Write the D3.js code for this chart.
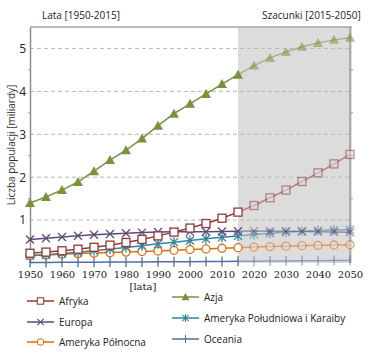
<!DOCTYPE html>
<html>
<head>
<meta charset="utf-8">
<script src="https://cdn.jsdelivr.net/npm/d3@7"></script>
<style>
body { margin: 0; background: #fff; }
text { font-family: "Open Sans", "DejaVu Sans", sans-serif; }
</style>
</head>
<body>
<svg id="chart"></svg>
<script>
// data (miliardy)
var years = [1950,1955,1960,1965,1970,1975,1980,1985,1990,1995,2000,2005,2010,2015,2020,2025,2030,2035,2040,2045,2050];
var afryka = [0.228,0.254,0.285,0.322,0.366,0.416,0.478,0.550,0.632,0.720,0.814,0.920,1.044,1.186,1.34,1.52,1.70,1.90,2.10,2.31,2.53];
var azja = [1.40,1.54,1.70,1.89,2.14,2.40,2.63,2.90,3.20,3.48,3.71,3.94,4.17,4.39,4.60,4.78,4.92,5.04,5.13,5.20,5.25];
var europa = [0.549,0.577,0.606,0.635,0.657,0.677,0.694,0.708,0.721,0.727,0.726,0.729,0.736,0.741,0.743,0.741,0.738,0.734,0.728,0.721,0.716];
var amerykaPld = [0.169,0.193,0.220,0.252,0.288,0.326,0.364,0.404,0.446,0.486,0.526,0.563,0.598,0.632,0.667,0.695,0.719,0.739,0.755,0.767,0.776];
var amerykaPln = [0.173,0.187,0.204,0.219,0.231,0.242,0.254,0.267,0.280,0.296,0.313,0.328,0.344,0.357,0.370,0.382,0.393,0.403,0.411,0.419,0.426];
var oceania = [0.013,0.014,0.016,0.018,0.020,0.022,0.023,0.025,0.027,0.029,0.031,0.034,0.037,0.040,0.043,0.046,0.049,0.051,0.054,0.056,0.057];
var xTicks = [1950,1960,1970,1980,1990,2000,2010,2020,2030,2040,2050];
var yTicks = [1,2,3,4,5];
var splitYear = 2015;

var series = [
  {name: "Afryka", values: afryka, color: "#953735", marker: "square", col: 0, row: 0},
  {name: "Europa", values: europa, color: "#604a7b", marker: "x", col: 0, row: 1},
  {name: "Ameryka Północna", values: amerykaPln, color: "#e46c0a", marker: "circle", col: 0, row: 2},
  {name: "Azja", values: azja, color: "#77933c", marker: "triangle", col: 1, row: 0},
  {name: "Ameryka Południowa i Karaiby", values: amerykaPld, color: "#31859c", marker: "star", col: 1, row: 1},
  {name: "Oceania", values: oceania, color: "#4f6fa0", marker: "plus", col: 1, row: 2}
];

var W = 371, H = 362;
var plotL = 30, plotR = 350, plotT = 27, plotB = 263;

var svg = d3.select("#chart").attr("width", W).attr("height", H);

var x = d3.scaleLinear().domain([1950, 2050]).range([plotL, plotR]);
var y = d3.scaleLinear().domain([0, 5.5]).range([plotB, plotT]);

//projection background
svg.append("rect")
  .attr("x", x(splitYear)).attr("y", plotT)
  .attr("width", x(2050) - x(splitYear) + 2).attr("height", plotB - plotT)
  .attr("fill", "#dcdcdc");

//grid
svg.append("g").selectAll("line").data(yTicks).enter().append("line")
  .attr("x1", plotL).attr("x2", plotR)
  .attr("y1", function(d) { return y(d); }).attr("y2", function(d) { return y(d); })
  .attr("stroke", "#b8b8b8").attr("stroke-dasharray", "4,3");

//frame
svg.append("line").attr("x1", plotL).attr("x2", plotR + 2).attr("y1", plotT).attr("y2", plotT)
  .attr("stroke", "#a6a6a6").attr("stroke-width", 1.5);
svg.append("line").attr("x1", plotR).attr("x2", plotR).attr("y1", plotT).attr("y2", plotB)
  .attr("stroke", "#8c8c8c").attr("stroke-width", 1.2);

//y axis
var yAxis = svg.append("g")
  .attr("transform", "translate(" + plotL + ",0)")
  .call(d3.axisLeft(y).tickValues(yTicks).tickSize(0).tickPadding(4).tickFormat(d3.format("d")));
yAxis.select(".domain").attr("stroke", "#8c8c8c").attr("stroke-width", 1.5);
yAxis.selectAll("text").style("font-size", "12px").attr("fill", "#222");

//minor ticks on both sides
var minor = d3.range(0.5, 5.5, 1);
svg.append("g").selectAll("line").data(minor).enter().append("line")
  .attr("x1", plotL - 2).attr("x2", plotL)
  .attr("y1", function(d) { return y(d); }).attr("y2", function(d) { return y(d); })
  .attr("stroke", "#999");
svg.append("g").selectAll("line").data(minor).enter().append("line")
  .attr("x1", plotR).attr("x2", plotR + 3)
  .attr("y1", function(d) { return y(d); }).attr("y2", function(d) { return y(d); })
  .attr("stroke", "#999");

//x axis
var xAxis = svg.append("g")
  .attr("transform", "translate(0," + plotB + ")")
  .call(d3.axisBottom(x).tickValues(xTicks).tickSize(0).tickPadding(8).tickFormat(d3.format("d")));
xAxis.select(".domain").remove();
xAxis.selectAll("text").style("font-family", "'DejaVu Serif', serif").style("font-size", "10px").attr("fill", "#222");

//marker drawing
function drawMarker(g, type, color, fill) {
  var s = 4;
  if (type == "square") {
    g.append("rect").attr("x", -s).attr("y", -s).attr("width", 2*s).attr("height", 2*s)
      .attr("fill", fill).attr("stroke", color).attr("stroke-width", 1.3);
  } else if (type == "circle") {
    g.append("circle").attr("r", s).attr("fill", fill).attr("stroke", color).attr("stroke-width", 1.3);
  } else if (type == "triangle") {
    g.append("path").attr("d", "M0,-5L5,4L-5,4Z").attr("fill", color);
  } else if (type == "x") {
    g.append("path").attr("d", "M-4,-4L4,4M-4,4L4,-4").attr("stroke", color).attr("stroke-width", 1.3);
  } else if (type == "star") {
    g.append("path").attr("d", "M-4,-4L4,4M-4,4L4,-4M0,-5L0,5").attr("stroke", color).attr("stroke-width", 1.3);
  } else if (type == "plus") {
    g.append("path").attr("d", "M0,-5L0,5").attr("stroke", color).attr("stroke-width", 1.3);
  }
}

var line = d3.line()
  .x(function(d) { return x(d[0]); })
  .y(function(d) { return y(d[1]); });

var drawOrder = [5, 2, 4, 1, 0, 3];
drawOrder.forEach(function(i) {
  var s = series[i];
  var pts = years.map(function(yr, j) { return [yr, s.values[j]]; });
  var past = pts.filter(function(d) { return d[0] <= splitYear; });
  var future = pts.filter(function(d) { return d[0] >= splitYear; });
  var g = svg.append("g");
  g.append("path").datum(future).attr("d", line).attr("fill", "none")
    .attr("stroke", s.color).attr("stroke-width", 1.5).attr("opacity", 0.55);
  g.append("path").datum(past).attr("d", line).attr("fill", "none")
    .attr("stroke", s.color).attr("stroke-width", 1.5);
  pts.forEach(function(d) {
    var m = g.append("g").attr("transform", "translate(" + x(d[0]) + "," + y(d[1]) + ")")
      .attr("opacity", d[0] > splitYear ? 0.55 : 1);
    drawMarker(m, s.marker, s.color, d[0] > splitYear ? "#dcdcdc" : "#fff");
  });
});

//titles
svg.append("text").attr("x", 42).attr("y", 19).text("Lata [1950-2015]")
  .style("font-size", "10px").attr("fill", "#222");
svg.append("text").attr("x", 262).attr("y", 19).text("Szacunki [2015-2050]")
  .style("font-size", "10px").attr("fill", "#222");
svg.append("text").attr("x", 143).attr("y", 290).attr("text-anchor", "middle")
  .text("[lata]").style("font-family", "'DejaVu Serif', serif").style("font-size", "10px").attr("fill", "#222");
svg.append("text")
  .attr("transform", "translate(15," + 145 + ") rotate(-90)")
  .attr("text-anchor", "middle")
  .text("Liczba populacji [miliardy]")
  .style("font-size", "10px").attr("fill", "#333");

//legend
var legX = [27, 172], legY = [[301, 322, 342], [297, 318, 339]];
series.forEach(function(s) {
  var lx = legX[s.col], ly = legY[s.col][s.row];
  var g = svg.append("g");
  g.append("line").attr("x1", lx).attr("x2", lx + 27).attr("y1", ly).attr("y2", ly)
    .attr("stroke", s.color).attr("stroke-width", 1.5);
  var m = g.append("g").attr("transform", "translate(" + (lx + 13.5) + "," + ly + ") scale(0.8)");
  drawMarker(m, s.marker, s.color, "#fff");
  g.append("text").attr("x", lx + 32).attr("y", ly).attr("dy", "0.35em")
    .text(s.name).style("font-size", "10px").attr("fill", "#222");
});
</script>
</body>
</html>
